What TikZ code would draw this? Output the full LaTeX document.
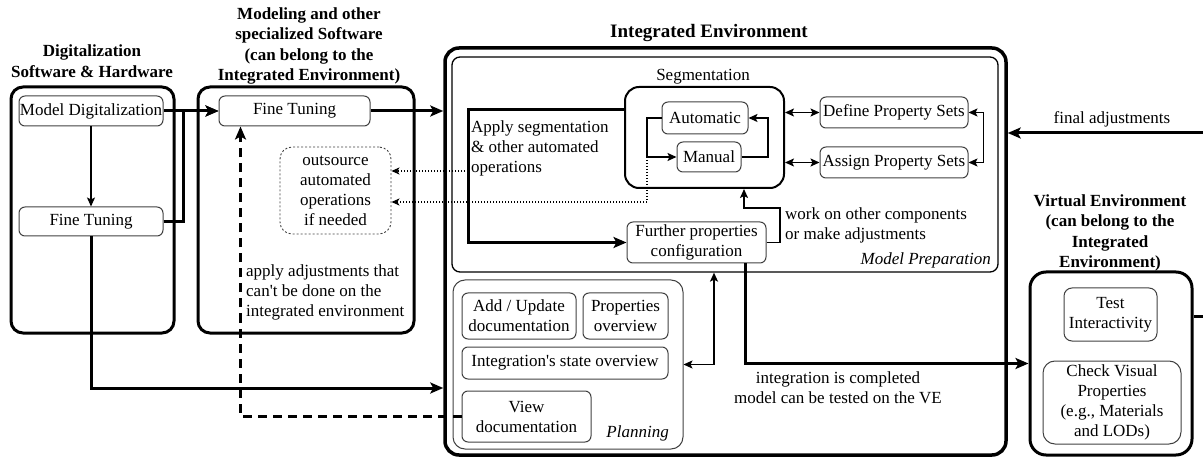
\documentclass[tikz,border=0pt]{standalone}
\usepackage{fontspec}
\setmainfont{Liberation Serif}
\usetikzlibrary{arrows.meta,calc}

\begin{document}
\begin{tikzpicture}[x=1pt,y=-1pt,
  every node/.style={font=\fontsize{17}{20}\selectfont, inner sep=0pt, align=center},
  sz/.style 2 args={minimum width=#1pt, minimum height=#2pt},
  frame/.style={draw, line width=3pt, rounded corners=12pt},
  box/.style={draw=black!75, line width=1pt, rounded corners=6pt},
  title/.style={font=\fontsize{17}{20.5}\selectfont\bfseries},
  ital/.style={font=\fontsize{17}{20}\selectfont\itshape},
  bigline/.style={line width=3pt},
  bigarr/.style={line width=3pt, -{Stealth[length=13pt,width=11pt,inset=3pt]}},
  dasharr/.style={line width=3pt, dash pattern=on 9pt off 6pt, -{Stealth[length=13pt,width=11pt,inset=3pt]}},
  medarr/.style={line width=1.6pt, -{Stealth[length=9pt,width=8pt,inset=2pt]}},
  medboth/.style={line width=1.6pt, {Stealth[length=9pt,width=8pt,inset=2pt]}-{Stealth[length=9pt,width=8pt,inset=2pt]}},
  thinarr/.style={line width=1.2pt, -{Stealth[length=9pt,width=8pt,inset=2pt]}},
  dotarr/.style={line width=1.3pt, dash pattern=on 1.5pt off 1.5pt, -{Stealth[length=8pt,width=7pt,inset=2pt]}}
]
\useasboundingbox (0,0) rectangle (1203,457);
\clip (0,0) rectangle (1203,457);

% ---------- Digitalization software & hardware
\node[frame, sz={163}{246}] (dig) at (92.5,210) {};
\node[title] (digt) at (92,61) {Digitalization\\Software \& Hardware};
\node[box, sz={144}{30}] (md) at (91,111) {Model Digitalization};
\node[box, sz={144}{29}] (ft1) at (91,221.5) {Fine Tuning};

% ---------- Modeling and other specialized software
\node[frame, sz={216}{246}] (mod) at (306,210) {};
\node[title] (modt) at (309,46) {Modeling and other\\specialized Software\\(can belong to the\\Integrated Environment)};
\node[box, sz={151}{30}] (ft2) at (294.5,111) {Fine Tuning};
\node[draw=black!75, line width=0.9pt, dash pattern=on 2pt off 2pt, rounded corners=12pt, sz={111}{87}] (out) at (335.5,190.5) {outsource\\automated\\operations\\if needed};
\node[anchor=west, align=left] (adjl) at (246,292) {apply adjustments that\\can\textquotesingle t be done on the\\integrated environment};

% ---------- Integrated environment
\node[frame, line width=3.5pt, rounded corners=14pt, sz={561}{407}] (ie) at (725.5,251.5) {};
\node[font=\fontsize{19}{22}\selectfont\bfseries] (iet) at (709,33) {Integrated Environment};

% model preparation
\node[draw, line width=1.3pt, rounded corners=8pt, sz={546}{215}] (mp) at (725,164.5) {};
\node[ital, anchor=east] (mpt) at (991,260) {Model Preparation};

\node[draw, line width=2pt, rounded corners=14pt, sz={159}{101}] (seg) at (704.5,137.5) {};
\node (segt) at (703,77) {Segmentation};
\node[box, sz={86}{32}] (auto) at (705,118) {Automatic};
\node[box, sz={64}{30}] (man) at (709,157) {Manual};
\node[box, sz={148}{31}] (def) at (894,112.5) {Define Property Sets};
\node[box, sz={148}{31}] (asg) at (894,162.5) {Assign Property Sets};
\node[box, sz={139}{41}] (fur) at (696.5,242.5) {Further properties\\configuration};
\node[anchor=west, align=left] (apl) at (471,148) {Apply segmentation\\\& other automated\\operations};
\node[anchor=west, align=left] (wrk) at (785,225) {work on other components\\or make adjustments};

% planning
\node[box, rounded corners=12pt, sz={230}{169}] (plan) at (568,364.5) {};
\node[ital, anchor=east] (plant) at (669,433) {Planning};
\node[box, sz={114}{46}] (add) at (519,316) {Add / Update\\documentation};
\node[box, sz={85}{46}] (pov) at (625.5,316) {Properties\\overview};
\node[box, sz={206}{32}] (iso) at (565,363) {Integration\textquotesingle s state overview};
\node[box, sz={129}{51}] (view) at (526.5,416.5) {View\\documentation};

% ---------- Virtual environment
\node[frame, rounded corners=16pt, sz={162}{183}] (ve) at (1111,363.5) {};
\node[title] (vet) at (1110,233) {Virtual Environment\\(can belong to the\\Integrated\\Environment)};
\node[box, rounded corners=8pt, sz={93}{53}] (ti) at (1110.5,314.5) {Test\\Interactivity};
\node[box, rounded corners=12pt, sz={138}{83}] (cv) at (1112,402.5) {Check Visual\\Properties\\(e.g., Materials\\and LODs)};

\node (cmp) at (838,388) {integration is completed\\model can be tested on the VE};
\node (fin) at (1112,119) {final adjustments};

% ---------- helper coordinates
\coordinate (c388) at (0,388);
\coordinate (aplx) at (468,110);
\coordinate (d1) at (468,171);
\coordinate (d3) at (0,202);
\coordinate (lx) at (647,0);
\coordinate (rx) at (768,0);
\coordinate (w1) at (780,208);
\coordinate (w2) at (744,0);
\coordinate (x714) at (714,0);
\coordinate (x745) at (745,0);
\coordinate (c317) at (0,317);
\coordinate (c133) at (0,133);
\coordinate (xr) at (1220,0);

% ---------- connectors
\draw[thinarr] (md.south) -- (ft1.north);
\draw[bigarr] (md.east) -- (ft2.west);
\draw[bigarr] (ft1.east) -- ++(20,0) |- (ft2.west);
\draw[bigarr] (ft2.east) -- (ft2.east -| ie.west);
\draw[bigarr] (ft1.south) |- (c388 -| ie.west);
\draw[dasharr] (view.west) -| ([xshift=22pt]ft2.south west);

\draw[bigarr] (seg.west |- aplx) -- (aplx) |- (fur.west);
\draw[dotarr] (d1) -- (d1 -| out.east);
\draw[dotarr] (lx |- man.west) |- (d3 -| out.east);

\draw[medarr] (auto.west) -| (lx |- man.west) -- (man.west);
\draw[medarr] (man.east) -| (rx |- auto.east) -- (auto.east);

\draw[medboth] (seg.east |- def.west) -- (def.west);
\draw[medboth] (seg.east |- asg.west) -- (asg.west);
\draw[medboth] (def.east) -- ++(15,0) |- (asg.east);

\draw[medarr] (fur.east) -| (w1) -| (w2 |- seg.south);
\draw[medboth] (plan.east) -| (x714 |- mp.south);

\draw[bigarr] (x745 |- fur.south) |- (ve.west);
\draw[bigarr] (c317 -| ve.east) -- (c317 -| xr) -- (c133 -| xr) -- (c133 -| ie.east);
\end{tikzpicture}
\end{document}
